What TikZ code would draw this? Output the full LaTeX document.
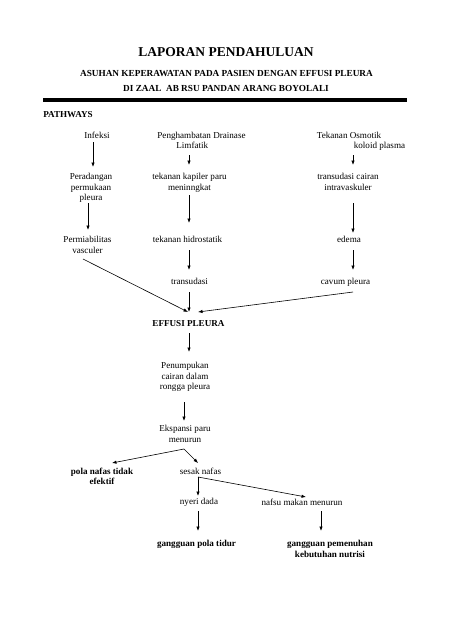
\documentclass[tikz,border=0pt]{standalone}
\usepackage{fontspec}
\setmainfont{Liberation Serif}
\usetikzlibrary{arrows.meta}

\begin{document}
\begin{tikzpicture}[x=1pt,y=1pt,line width=0.6pt,
    >={Latex[length=4.5pt,width=3.4pt]},
    lbl/.style={inner sep=0pt,anchor=north,align=center,font=\fontsize{9.1}{10.5}\selectfont},
    lblb/.style={lbl,font=\fontsize{9.1}{10.5}\selectfont\bfseries}]
    \useasboundingbox (0,0) rectangle (452,-640);
    \node[font=\fontsize{13.5}{16}\selectfont\bfseries] (judul) at (226,-52.5) {LAPORAN PENDAHULUAN};
    \node[font=\fontsize{9.25}{11}\selectfont\bfseries] (asuhan) at (226.5,-73.5) {ASUHAN KEPERAWATAN PADA PASIEN DENGAN EFFUSI PLEURA};
    \node[font=\fontsize{9.25}{11}\selectfont\bfseries] (zaal) at (226,-88.8) {DI ZAAL~ AB RSU PANDAN ARANG BOYOLALI};
    \draw[line width=4pt] (43,-100) -- (407,-100);
    \node[lblb,anchor=west] (pathways) at (43,-115) {PATHWAYS};

    \node[lbl] (infeksi)   at (97,-131.6)    {Infeksi};
    \node[lbl,align=left] (drainase) at (201.5,-131.6) {Penghambatan Drainase\\\hspace*{19pt}Limfatik};
    \node[lbl,align=left] (osmotik)  at (361,-131.6)   {Tekanan Osmotik\\\hspace*{37pt}koloid plasma};
    \node[lbl] (radang)    at (91,-173.3)    {Peradangan\\permukaan\\pleura};
    \node[lbl] (kapiler)   at (189.5,-173.3) {tekanan kapiler paru\\meninngkat};
    \node[lbl] (transcair) at (348,-173.3)   {transudasi cairan\\intravaskuler};
    \node[lbl] (permia)    at (87.5,-236.3)  {Permiabilitas\\vasculer};
    \node[lbl] (hidro)     at (187.5,-236.3) {tekanan hidrostatik};
    \node[lbl] (edema)     at (349,-236.3)   {edema};
    \node[lbl] (transud)   at (189.5,-278.3) {transudasi};
    \node[lbl] (cavum)     at (345.5,-278.3) {cavum pleura};
    \node[lblb] (effusi)   at (188.5,-320)   {EFFUSI PLEURA};
    \node[lbl] (tumpuk)    at (185,-362.3)   {Penumpukan\\cairan dalam\\rongga pleura};
    \node[lbl] (ekspansi)  at (185,-425.3)   {Ekspansi paru\\menurun};
    \node[lblb] (polanafas) at (102,-467.3)  {pola nafas tidak\\efektif};
    \node[lbl] (sesak)     at (200.5,-467.3) {sesak nafas};
    \node[lbl] (nyeri)     at (199,-498.3)   {nyeri dada};
    \node[lbl] (nafsu)     at (302,-498.3)   {nafsu makan menurun};
    \node[lblb] (tidur)    at (196.5,-540.3) {gangguan pola tidur};
    \node[lblb] (nutrisi)  at (330,-540.3)   {gangguan pemenuhan\\kebutuhan nutrisi};

    \foreach \a/\b/\dx/\s/\e in {infeksi/radang/-4/10.4/6.3, drainase/kapiler/-12.5/23.4/8.3,
        osmotik/transcair/-8/23.4/8.3, radang/permia/-3/29.7/6.3, kapiler/hidro/-0.5/21.7/13.3,
        transcair/edema/5/29.7/3.3, hidro/transud/1.5/13.7/8.3, edema/cavum/4/13.7/8.3,
        transud/effusi/-0.5/13.7/8, effusi/tumpuk/0.5/13/10.3, tumpuk/ekspansi/-1/39.7/4.3,
        sesak/nyeri/-2.5/9.7/2.3, nyeri/tidur/-1/12.7/9.3, nafsu/nutrisi/19/12.7/9.3}
    {
        \draw[->,shorten <=\s pt,shorten >=\e pt] ([xshift=\dx pt]\a.north) -- ([xshift=\dx pt]\a.north |- \b.north);
    }
    \draw[->] ([xshift=-4.5pt,yshift=-22.7pt]permia.north) -- ([xshift=-0.5pt,yshift=8pt]effusi.north);
    \draw[->] ([xshift=7.5pt,yshift=-13.7pt]cavum.north) -- ([xshift=9.5pt,yshift=8pt]effusi.north);
    \draw[->] ([xshift=-1pt,yshift=-23.7pt]ekspansi.north) -- ([xshift=10pt,yshift=4.3pt]polanafas.north);
    \draw[->] ([xshift=-1pt,yshift=-23.7pt]ekspansi.north) -- ([xshift=-2.5pt,yshift=4.3pt]sesak.north);
    \draw[->] ([xshift=-2.5pt,yshift=-9.7pt]sesak.north) -- ([xshift=4pt,yshift=1.3pt]nafsu.north);
\end{tikzpicture}
\end{document}
